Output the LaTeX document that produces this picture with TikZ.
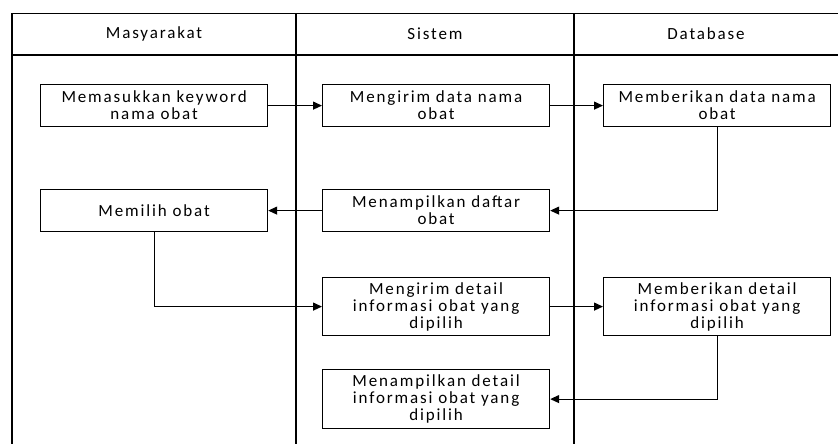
\documentclass[tikz,border=0pt]{standalone}
\usepackage{fontspec}
\setmainfont[LetterSpace=11]{Carlito}
\usetikzlibrary{arrows.meta}
\tikzset{
  box/.style={draw, line width=1.2bp, minimum width=227bp, align=center, font=\fontsize{17bp}{17bp}\selectfont, inner sep=0pt, anchor=north west},
  lane/.style={line width=1.3bp},
  flow/.style={line width=1.2bp, -{Triangle[length=9bp,width=8bp]}},
  lbl/.style={font=\fontsize{17bp}{17bp}\selectfont}
}
\begin{document}
\begin{tikzpicture}[x=1bp,y=-1bp]
\useasboundingbox (0,0) rectangle (838,444);
% frame
\draw[lane] (838,13.5) -- (12,13.5) -- (12,444);
\draw[lane] (12,55) -- (838,55);
\draw[lane] (296,13.5) -- (296,444);
\draw[lane] (574,13.5) -- (574,444);
\node[lbl] (h1) at (154,34) {Masyarakat};
\node[lbl] (h2) at (435,34) {Sistem};
\node[lbl] (h3) at (706,34) {Database};
% boxes
\node[box, minimum height=42bp] (b1) at (40,84) {Memasukkan keyword\\nama obat};
\node[box, minimum height=42bp] (b2) at (322,84) {Mengirim data nama\\obat};
\node[box, minimum height=42bp] (b3) at (603,84) {Memberikan data nama\\obat};
\node[box, minimum height=42bp] (b4) at (40,189) {Memilih obat};
\node[box, minimum height=42bp] (b5) at (322,189) {Menampilkan daftar\\obat};
\node[box, minimum height=58bp] (b6) at (322,277) {Mengirim detail\\informasi obat yang\\dipilih};
\node[box, minimum height=58bp] (b7) at (603,277) {Memberikan detail\\informasi obat yang\\dipilih};
\node[box, minimum height=59bp] (b8) at (322,369) {Menampilkan detail\\informasi obat yang\\dipilih};
% connectors
\draw[flow] (b1) -- (b2);
\draw[flow] (b2) -- (b3);
\draw[flow] (b3.south) |- (b5.east);
\draw[flow] (b5) -- (b4);
\draw[flow] (b4.south) |- (b6.west);
\draw[flow] (b6) -- (b7);
\draw[flow] (b7.south) |- (b8.east);
\end{tikzpicture}
\end{document}
